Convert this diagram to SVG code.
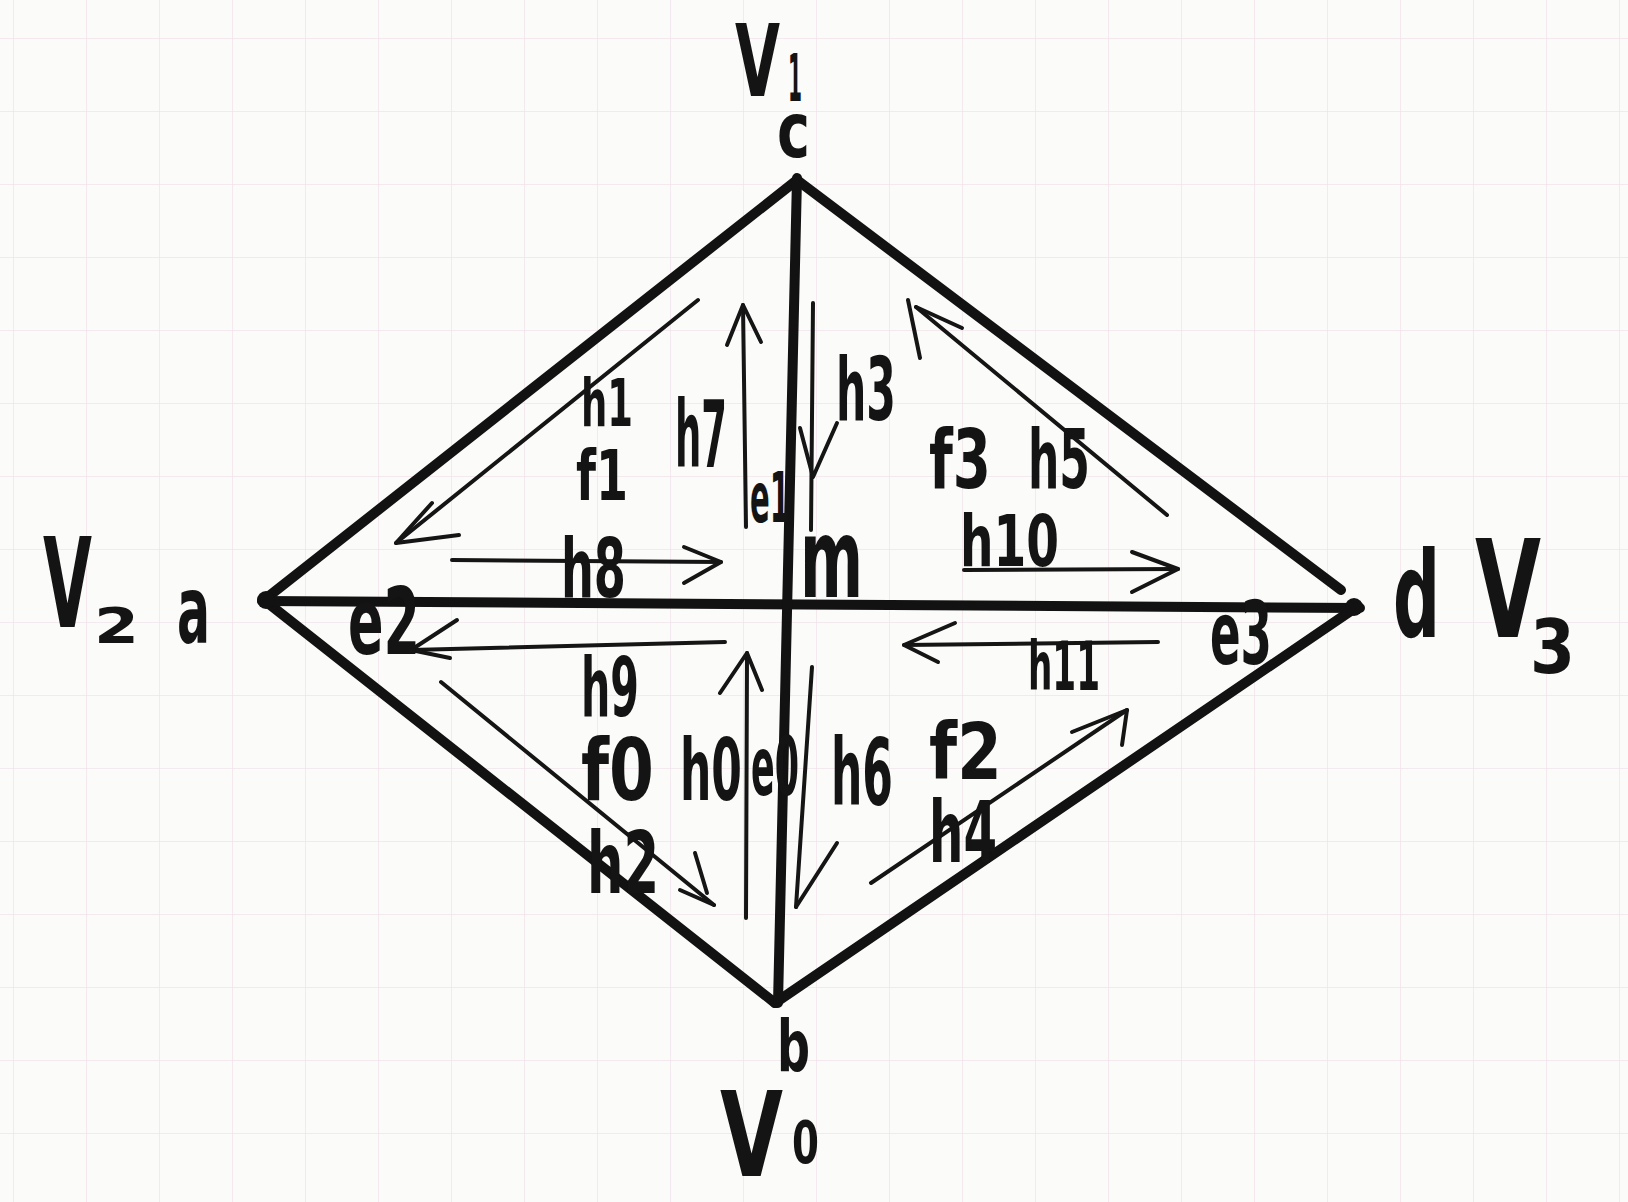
<svg xmlns="http://www.w3.org/2000/svg" width="1628" height="1202" viewBox="0 0 1628 1202">
<defs>
<pattern id="grid" x="13" y="38" width="73" height="73" patternUnits="userSpaceOnUse">
<path d="M0 0H73M0 0V73" fill="none" stroke="#f1e4ea" stroke-width="1.5"/>
</pattern>
<style>
.edge{fill:none;stroke:#121212;stroke-width:10;stroke-linecap:round;stroke-linejoin:round}
.arr{fill:none;stroke:#151515;stroke-width:4;stroke-linecap:round;stroke-linejoin:round}
.lbl{font-family:"Liberation Sans Narrow","DejaVu Sans Condensed","Liberation Sans",sans-serif;font-weight:bold;fill:#141414}
.vlbl{font-family:"Liberation Sans Narrow","DejaVu Sans Condensed","Liberation Sans",sans-serif;font-weight:bold;fill:#141414}
</style>
</defs>
<rect width="1628" height="1202" fill="#fbfbf9"/>
<rect width="1628" height="1202" fill="url(#grid)"/>

<g id="connectors">
<g id="edges">
<line class="edge" x1="264" y1="600" x2="797" y2="180"/>
<line class="edge" x1="797" y1="180" x2="1341" y2="590"/>
<line class="edge" x1="264" y1="600" x2="775" y2="1003"/>
<line class="edge" x1="775" y1="1003" x2="1358" y2="606"/>
<line class="edge" x1="262" y1="601" x2="1360" y2="608"/>
<line class="edge" x1="797" y1="178" x2="778" y2="1003"/>
<circle cx="266" cy="600" r="9" fill="#121212"/>
<circle cx="1354" cy="607" r="9" fill="#121212"/>
</g>
<g id="half-edges">
<g id="arr-h1"><line class="arr" x1="698" y1="300" x2="396" y2="543"/><polyline class="arr" points="432,503 396,543 459,535"/></g>
<g id="arr-h7"><line class="arr" x1="746" y1="527" x2="743" y2="305"/><polyline class="arr" points="727,345 743,305 761,342"/></g>
<g id="arr-h8"><line class="arr" x1="452" y1="560" x2="721" y2="562"/><polyline class="arr" points="684,547 721,562 684,583"/></g>
<g id="arr-h3"><line class="arr" x1="813" y1="303" x2="811" y2="530"/><polyline class="arr" points="800,428 813,477 837,423"/></g>
<g id="arr-h5"><line class="arr" x1="1167" y1="515" x2="916" y2="307"/><line class="arr" x1="916" y1="307" x2="962" y2="328"/><line class="arr" x1="908" y1="300" x2="920" y2="358"/></g>
<g id="arr-h10"><line class="arr" x1="964" y1="570" x2="1178" y2="569"/><polyline class="arr" points="1132,552 1178,569 1132,592"/></g>
<g id="arr-h9"><line class="arr" x1="725" y1="642" x2="411" y2="650"/><polyline class="arr" points="457,620 411,650 450,658"/></g>
<g id="arr-h2"><line class="arr" x1="441" y1="682" x2="714" y2="905"/><line class="arr" x1="695" y1="853" x2="707" y2="893"/><line class="arr" x1="680" y1="890" x2="714" y2="905"/></g>
<g id="arr-h0"><line class="arr" x1="746" y1="918" x2="747" y2="653"/><polyline class="arr" points="720,693 747,653 762,690"/></g>
<g id="arr-h6"><line class="arr" x1="812" y1="667" x2="796" y2="907"/><line class="arr" x1="837" y1="843" x2="796" y2="907"/></g>
<g id="arr-h11"><line class="arr" x1="1158" y1="642" x2="904" y2="645"/><polyline class="arr" points="955,623 904,645 938,662"/></g>
<g id="arr-h4"><line class="arr" x1="871" y1="883" x2="1127" y2="710"/><polyline class="arr" points="1072,732 1127,710 1122,745"/></g>
</g>
</g>

<g id="node-c">
<text class="vlbl" x="735" y="96" font-size="100" textLength="45" lengthAdjust="spacingAndGlyphs">V</text>
<text class="vlbl" x="788" y="101" font-size="66" textLength="14" lengthAdjust="spacingAndGlyphs">1</text>
<text class="vlbl" x="777" y="157" font-size="76" textLength="33" lengthAdjust="spacingAndGlyphs">c</text>
</g>
<g id="node-a">
<text class="vlbl" x="43" y="627" font-size="125" textLength="49" lengthAdjust="spacingAndGlyphs">V</text>
<text class="vlbl" x="94" y="643" font-size="50" textLength="45" lengthAdjust="spacingAndGlyphs">2</text>
<text class="vlbl" x="177" y="643" font-size="95" textLength="33" lengthAdjust="spacingAndGlyphs">a</text>
</g>
<g id="node-d">
<text class="vlbl" x="1393" y="637" font-size="120" textLength="47" lengthAdjust="spacingAndGlyphs">d</text>
<text class="vlbl" x="1475" y="637" font-size="135" textLength="66" lengthAdjust="spacingAndGlyphs">V</text>
<text class="vlbl" x="1530" y="673" font-size="74" textLength="45" lengthAdjust="spacingAndGlyphs">3</text>
</g>
<g id="node-b">
<text class="vlbl" x="777" y="1071" font-size="72" textLength="33" lengthAdjust="spacingAndGlyphs">b</text>
<text class="vlbl" x="720" y="1176" font-size="118" textLength="63" lengthAdjust="spacingAndGlyphs">V</text>
<text class="vlbl" x="792" y="1163" font-size="58" textLength="27" lengthAdjust="spacingAndGlyphs">0</text>
</g>

<g id="face-f1">
<text class="lbl" x="581" y="426" font-size="66" textLength="52" lengthAdjust="spacingAndGlyphs">h1</text>
<text class="lbl" x="576" y="500" font-size="70" textLength="52" lengthAdjust="spacingAndGlyphs">f1</text>
<text class="lbl" x="675" y="467" font-size="92" textLength="52" lengthAdjust="spacingAndGlyphs">h7</text>
<text class="lbl" x="561" y="597" font-size="82" textLength="65" lengthAdjust="spacingAndGlyphs">h8</text>
</g>
<g id="face-f3">
<text class="lbl" x="836" y="420" font-size="88" textLength="60" lengthAdjust="spacingAndGlyphs">h3</text>
<text class="lbl" x="929" y="488" font-size="82" textLength="62" lengthAdjust="spacingAndGlyphs">f3</text>
<text class="lbl" x="1028" y="488" font-size="82" textLength="62" lengthAdjust="spacingAndGlyphs">h5</text>
<text class="lbl" x="960" y="566" font-size="72" textLength="99" lengthAdjust="spacingAndGlyphs">h10</text>
</g>
<g id="face-f0">
<text class="lbl" x="581" y="716" font-size="82" textLength="58" lengthAdjust="spacingAndGlyphs">h9</text>
<text class="lbl" x="581" y="800" font-size="86" textLength="73" lengthAdjust="spacingAndGlyphs">f0</text>
<text class="lbl" x="680" y="800" font-size="86" textLength="62" lengthAdjust="spacingAndGlyphs">h0</text>
<text class="lbl" x="587" y="893" font-size="86" textLength="72" lengthAdjust="spacingAndGlyphs">h2</text>
</g>
<g id="face-f2">
<text class="lbl" x="831" y="805" font-size="92" textLength="62" lengthAdjust="spacingAndGlyphs">h6</text>
<text class="lbl" x="929" y="779" font-size="78" textLength="73" lengthAdjust="spacingAndGlyphs">f2</text>
<text class="lbl" x="929" y="862" font-size="86" textLength="68" lengthAdjust="spacingAndGlyphs">h4</text>
<text class="lbl" x="1028" y="690" font-size="68" textLength="72" lengthAdjust="spacingAndGlyphs">h11</text>
</g>
<g id="edge-labels">
<text class="lbl" x="750" y="522" font-size="70" textLength="40" lengthAdjust="spacingAndGlyphs">e1</text>
<text class="lbl" x="348" y="654" font-size="92" textLength="72" lengthAdjust="spacingAndGlyphs">e2</text>
<text class="lbl" x="1210" y="664" font-size="88" textLength="62" lengthAdjust="spacingAndGlyphs">e3</text>
<text class="lbl" x="751" y="795" font-size="82" textLength="48" lengthAdjust="spacingAndGlyphs">e0</text>
<text class="lbl" x="800" y="597" font-size="110" font-weight="900" textLength="63" lengthAdjust="spacingAndGlyphs">m</text>
</g>
</svg>
